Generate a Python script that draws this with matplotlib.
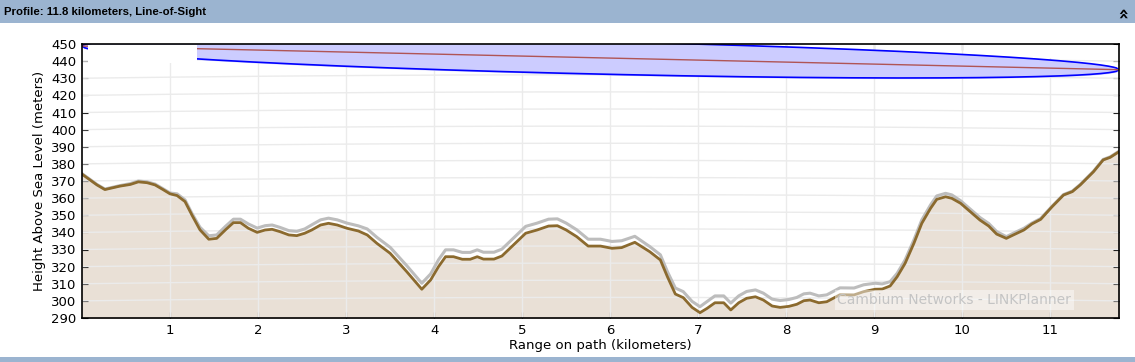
import numpy as np
import matplotlib
matplotlib.use("Agg")
import matplotlib.pyplot as plt
from matplotlib.patches import Rectangle

# terrain profile (km, m above sea level)
dist_km = [0.00, 0.17, 0.26, 0.43, 0.55, 0.64, 0.74, 0.83, 0.92, 1.00,
           1.08, 1.17, 1.25, 1.34, 1.44, 1.53, 1.63, 1.72, 1.80, 1.89,
           1.99, 2.08, 2.16, 2.25, 2.35, 2.44, 2.53, 2.61, 2.71, 2.80,
           2.90, 3.01, 3.14, 3.24, 3.35, 3.50, 3.69, 3.86, 3.96, 4.05,
           4.13, 4.22, 4.32, 4.41, 4.49, 4.56, 4.68, 4.77, 4.90, 5.04,
           5.17, 5.30, 5.40, 5.50, 5.62, 5.75, 5.89, 6.02, 6.13, 6.28,
           6.45, 6.57, 6.65, 6.74, 6.83, 6.93, 7.02, 7.10, 7.19, 7.29,
           7.37, 7.46, 7.55, 7.65, 7.74, 7.84, 7.93, 8.03, 8.12, 8.20,
           8.27, 8.37, 8.46, 8.61, 8.77, 8.88, 9.01, 9.09, 9.18, 9.26,
           9.35, 9.45, 9.54, 9.64, 9.71, 9.81, 9.88, 9.98, 10.09, 10.20,
           10.30, 10.39, 10.50, 10.58, 10.70, 10.79, 10.89, 11.02, 11.15, 11.25,
           11.34, 11.49, 11.60, 11.68, 11.78]
terrain_m = [374.0, 367.7, 365.0, 367.0, 368.0, 369.5, 369.0, 367.7, 365.0, 362.5,
             361.5, 358.0, 350.0, 341.5, 336.0, 336.5, 341.5, 345.7, 345.7, 342.4,
             340.0, 341.4, 341.8, 340.4, 338.5, 338.1, 339.5, 341.4, 344.3, 345.3,
             344.3, 342.4, 340.8, 338.5, 333.6, 327.8, 317.0, 306.8, 312.2, 320.0,
             325.8, 325.8, 324.3, 324.3, 325.8, 324.4, 324.4, 326.2, 332.6, 339.5,
             341.4, 343.7, 343.9, 341.4, 337.5, 332.0, 332.0, 330.7, 331.1, 334.2,
             328.7, 323.9, 314.1, 304.0, 301.9, 296.2, 293.1, 295.6, 298.9, 298.9,
             294.7, 298.9, 301.5, 302.4, 300.5, 297.0, 296.2, 296.8, 298.0, 300.1,
             300.5, 298.9, 299.5, 303.6, 303.5, 305.4, 306.8, 306.9, 308.7, 314.1,
             321.9, 333.6, 345.3, 354.1, 359.3, 360.8, 359.9, 357.0, 352.1, 347.2,
             343.7, 339.0, 336.5, 338.5, 341.4, 344.9, 347.6, 355.0, 361.8, 363.8,
             367.7, 375.4, 382.3, 383.8, 387.1]
# clutter height on top of terrain (grey line)
clutter_m = [0.3, 0.3, 0.3, 0.3, 0.5, 0.5, 0.5, 0.5, 0.5, 0.5,
             1.0, 1.0, 1.0, 1.5, 2.0, 2.0, 2.0, 2.0, 2.0, 2.5,
             2.5, 2.5, 2.5, 2.5, 2.5, 2.5, 2.5, 3.0, 3.0, 3.0,
             3.0, 3.0, 3.0, 3.5, 3.5, 3.5, 3.5, 3.5, 3.5, 4.0,
             4.0, 4.0, 4.0, 4.0, 4.0, 4.0, 4.0, 4.0, 4.0, 4.0,
             4.0, 4.0, 4.0, 4.0, 4.0, 4.0, 4.0, 4.0, 4.0, 3.5,
             3.0, 3.0, 3.0, 3.5, 3.5, 3.5, 3.5, 4.0, 4.0, 4.0,
             4.0, 4.0, 4.0, 4.0, 4.0, 4.0, 4.0, 4.0, 4.0, 4.0,
             4.0, 4.0, 4.0, 4.0, 4.0, 4.0, 3.5, 3.0, 2.5, 2.0,
             2.0, 2.0, 2.0, 2.0, 2.0, 2.0, 2.0, 1.5, 1.5, 1.5,
             1.5, 1.5, 1.0, 1.0, 1.0, 0.5, 0.5, 0.3, 0.3, 0.3,
             0.3, 0.3, 0.3, 0.3, 0.3]

path_km = 11.78
los_start_m = 448.8
los_end_m = 435.0
freq_ghz = 9.8
y_levels = list(range(290, 451, 10))
x_ticks = list(range(1, 12))

d = np.array(dist_km)
terrain = np.array(terrain_m)
clutter = terrain + np.array(clutter_m)

fig = plt.figure(figsize=(11.35, 3.62), dpi=100)
bar_col = "#9bb4d0"
fig.patches.append(Rectangle((0, 1 - 23 / 362), 1, 23 / 362, transform=fig.transFigure,
                             facecolor=bar_col, edgecolor="none"))
fig.patches.append(Rectangle((0, 0), 1, 5 / 362, transform=fig.transFigure,
                             facecolor=bar_col, edgecolor="none"))
fig.text(4 / 1135, 1 - 12 / 362, "Profile: 11.8 kilometers, Line-of-Sight",
         fontsize=8.2, fontweight="bold", family="Liberation Sans", va="center")
fig.text(1123 / 1135, 1 - 12 / 362, "»", fontsize=13, fontweight="bold",
         rotation=90, ha="center", va="center")

ax = fig.add_axes([82 / 1135, 1 - 318 / 362, 1037 / 1135, 274 / 362])

# terrain
ax.fill_between(d, 290, terrain, color="#e9e0d6", zorder=1)

# grid: height lines bend with earth curvature (k = 4/3)
xs = np.linspace(0, path_km, 200)
bulge = xs * (path_km - xs) / (2 * 4 / 3 * 6371) * 1000
for lvl in y_levels[1:-1]:
    ax.plot(xs, lvl + bulge, color="#ebebeb", lw=1, zorder=2)
for xt in x_ticks:
    ax.axvline(xt, color="#ebebeb", lw=1, zorder=2)

ax.plot(d, clutter, color="#bdbdbd", lw=2.2, zorder=3)
ax.plot(d, terrain, color="#8b6a2e", lw=2, zorder=4)

# first fresnel zone around the line of sight
lam = 0.3 / freq_ghz
xf = np.linspace(0, path_km, 400)
los = los_start_m + (los_end_m - los_start_m) * xf / path_km
r = np.sqrt(lam * xf * 1000 * (path_km - xf) * 1000 / (path_km * 1000))
ax.fill_between(xf, los - r, los + r, color="#ccccff", zorder=5)
ax.plot(xf, los + r, color="#0000ff", lw=1.2, zorder=6)
ax.plot(xf, los - r, color="#0000ff", lw=1.2, zorder=6)
ax.plot(xf, los, color="#b05555", lw=1, zorder=6)

# blank legend boxes
ax.add_patch(Rectangle((0.006, 0.93), 0.105, 0.066, transform=ax.transAxes,
                       facecolor="white", edgecolor="none", zorder=7))
ax.add_patch(Rectangle((0.917, 0.948), 0.08, 0.05, transform=ax.transAxes,
                       facecolor="white", edgecolor="none", zorder=7))

ax.text(9.91, 300.5, "Cambium Networks - LINKPlanner", fontsize=10, color="#c4c4c4",
        ha="center", va="center", zorder=8,
        bbox=dict(facecolor="white", edgecolor="none", alpha=0.45, pad=2))

ax.set_xlim(0, path_km)
ax.set_ylim(290, 450)
ax.set_xticks(x_ticks)
ax.set_yticks(y_levels)
ax.tick_params(direction="in", top=True, right=True, length=4, labelsize=9.5, pad=4)
for s in ax.spines.values():
    s.set_linewidth(1.2)
    s.set_zorder(9)
ax.set_xlabel("Range on path (kilometers)", fontsize=9.5, labelpad=2)
ax.set_ylabel("Height Above Sea Level (meters)", fontsize=9.5, labelpad=4)

fig.savefig("out.png", dpi=100)
